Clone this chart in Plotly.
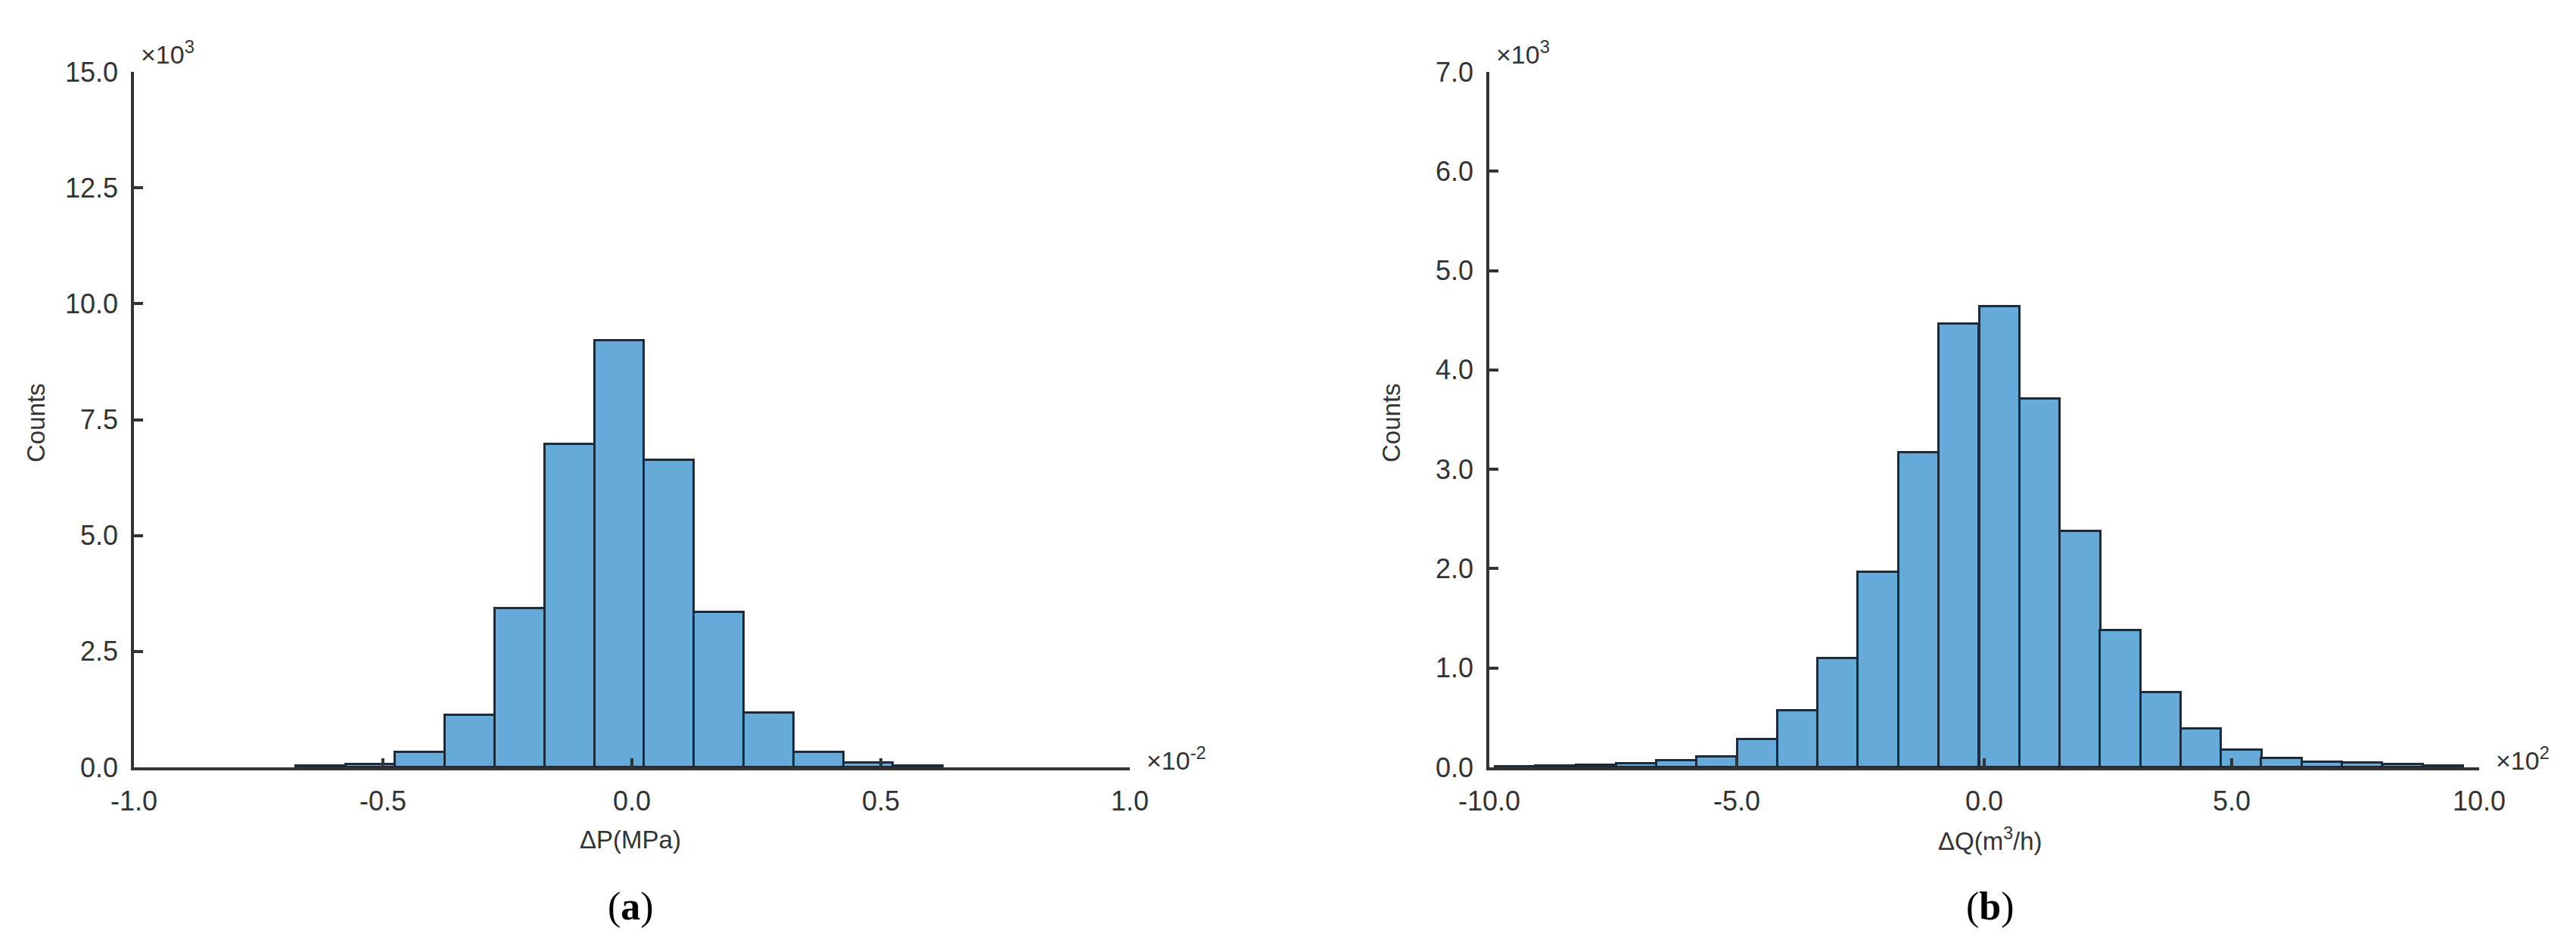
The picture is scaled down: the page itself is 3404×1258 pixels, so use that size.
import plotly.graph_objects as go

# (a) pressure residuals, x in units of 1e-2 MPa, counts in 1e3
p_centers = [-0.625, -0.525, -0.425, -0.325, -0.225, -0.125, -0.025,
             0.075, 0.175, 0.275, 0.375, 0.475, 0.575]
p_counts = [0.03, 0.07, 0.33, 1.12, 3.42, 6.97, 9.2,
            6.63, 3.34, 1.18, 0.33, 0.09, 0.03]
p_width = 0.1

# (b) flow residuals, x in units of 1e2 m3/h, counts in 1e3
q_centers = [-9.47, -8.66, -7.84, -7.03, -6.21, -5.40, -4.58, -3.77,
             -2.95, -2.14, -1.32, -0.51, 0.31, 1.12, 1.94, 2.75,
             3.57, 4.38, 5.20, 6.01, 6.83, 7.64, 8.46, 9.27]
q_counts = [0.006, 0.012, 0.025, 0.04, 0.07, 0.11, 0.28, 0.575,
            1.10, 1.965, 3.165, 4.46, 4.64, 3.71, 2.38, 1.38,
            0.756, 0.387, 0.178, 0.089, 0.056, 0.043, 0.033, 0.018]
q_width = 0.815

p_ticks = [-1.0, -0.5, 0.0, 0.5, 1.0]
q_ticks = [-10.0, -5.0, 0.0, 5.0, 10.0]
p_yticks = [0.0, 2.5, 5.0, 7.5, 10.0, 12.5, 15.0]
q_yticks = [0.0, 1.0, 2.0, 3.0, 4.0, 5.0, 6.0, 7.0]

W, H = 3404, 1258
fill = "#66aada"
edge = "#1c2b3a"
axc = "#333333"
txt = "#333333"
font = "Liberation Sans, Arial, sans-serif"

fig = go.Figure()
fig.add_trace(go.Bar(x=p_centers, y=p_counts, width=p_width,
                     marker=dict(color=fill, line=dict(color=edge, width=3)),
                     xaxis="x", yaxis="y", showlegend=False))
fig.add_trace(go.Bar(x=q_centers, y=q_counts, width=q_width,
                     marker=dict(color=fill, line=dict(color=edge, width=3)),
                     xaxis="x2", yaxis="y2", showlegend=False))

def lab(v):
    return [f"{t:.1f}" for t in v]  # plain hyphen minus, as in the source

def ax(vals, **kw):
    d = dict(showline=True, linecolor=axc, linewidth=3.5, ticks="inside",
             ticklen=12, tickwidth=3.5, tickcolor=axc, showgrid=False,
             zeroline=False, mirror=False, automargin=False,
             tickvals=vals, ticktext=lab(vals),
             tickfont=dict(family=font, size=36, color=txt))
    d.update(kw)
    return d

y_dom = [(H - 1006) / H, (H - 87) / H]
fig.update_layout(
    width=W, height=H,
    margin=dict(l=0, r=0, t=0, b=0),
    paper_bgcolor="white", plot_bgcolor="white",
    bargap=0,
    xaxis=ax(p_ticks, domain=[169 / W, 1485 / W], range=[-1, 1],
             anchor="y", ticklabelstandoff=10),
    yaxis=ax(p_yticks, domain=y_dom, range=[0, 15],
             anchor="x", ticklabelstandoff=10),
    xaxis2=ax(q_ticks, domain=[1960 / W, 3268 / W], range=[-10, 10],
              anchor="y2", ticklabelstandoff=10),
    yaxis2=ax(q_yticks, domain=y_dom, range=[0, 7],
              anchor="x2", ticklabelstandoff=10),
)

def note(text, x, y, size=33, angle=0, xanchor="center", family=font, color=txt):
    fig.add_annotation(text=text, x=x / W, y=1 - y / H, xref="paper", yref="paper",
                       showarrow=False, textangle=angle, xanchor=xanchor,
                       yanchor="middle", font=dict(family=family, size=size, color=color))

note("Counts", 39, 551, angle=-90, size=33)
note("Counts", 1830, 551, angle=-90, size=33)
note("ΔP(MPa)", 825, 1101, size=33)
note("ΔQ(m<sup>3</sup>/h)", 2622, 1101, size=33)
note("×10<sup>3</sup>", 176, 62, xanchor="left", size=34)
note("×10<sup>3</sup>", 1967, 62, xanchor="left", size=34)
note("×10<sup>-2</sup>", 1505, 995, xanchor="left", size=34)
note("×10<sup>2</sup>", 3288, 995, xanchor="left", size=34)
note("(<b>a</b>)", 825, 1190, size=52, family="Liberation Serif, Times New Roman, serif", color="black")
note("(<b>b</b>)", 2622, 1190, size=52, family="Liberation Serif, Times New Roman, serif", color="black")

fig.write_html("out.html")
